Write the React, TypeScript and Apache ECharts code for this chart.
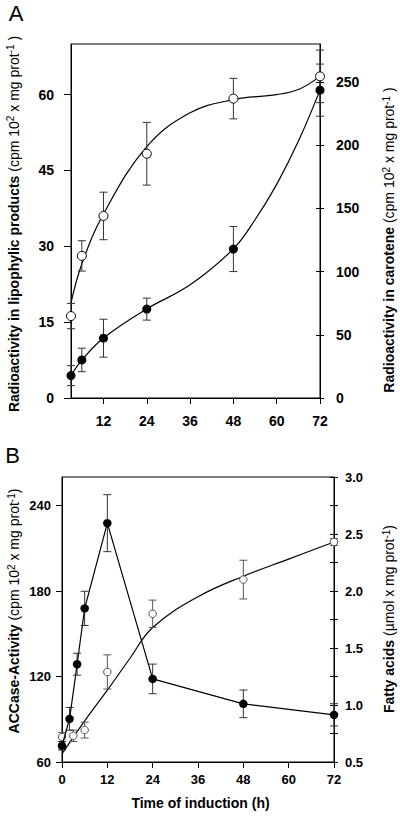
import React, { useEffect, useRef } from "react";
import * as echarts from "echarts";

// ---------- Panel A data ----------
const A_TIMES = [3, 6, 12, 24, 48, 72];
const A_LIPO = [16.2, 28.1, 36.0, 48.3, 59.2, 63.6];
const A_LIPO_ERR = [2.5, 3.0, 4.7, 6.2, 4.0, 5.2];
const A_CAROT = [17.7, 30.1, 47.3, 70.3, 117.8, 243.5];
const A_CAROT_ERR = [7.9, 9.3, 15.0, 8.7, 17.8, 20.6];
// fitted curves
const A_LIPO_FIT_T = [3, 6, 12, 24, 36, 48, 60, 66, 72];
const A_LIPO_FIT = [18.8, 26.5, 36.4, 49.7, 56.4, 59.0, 60.0, 61.0, 63.6];
const A_CAROT_FIT_T = [3, 6, 12, 24, 36, 48, 54, 60, 66, 72];
const A_CAROT_FIT = [17.7, 30, 47.5, 70.5, 89.5, 118, 141, 169, 203, 243.5];
const A_X_TICKS = [12, 24, 36, 48, 60, 72];
const A_LEFT_TICKS = [0, 15, 30, 45, 60];
const A_RIGHT_TICKS = [0, 50, 100, 150, 200, 250];

// ---------- Panel B data ----------
const B_ACC_T = [0, 2, 4, 6, 12, 24, 48, 72];
const B_ACC = [71.4, 90.3, 128.6, 167.8, 227.6, 118.3, 100.8, 93.1];
const B_ACC_ERR = [3, 8, 7.7, 12, 20, 10.4, 9.7, 7.8];
const B_FA_T = [0, 3, 6, 12, 24, 48, 72];
const B_FA = [0.72, 0.73, 0.78, 1.29, 1.8, 2.1, 2.43];
const B_FA_ERR = [0.04, 0.05, 0.07, 0.15, 0.12, 0.17, 0.03];
const B_FA_FIT_T = [0, 6, 12, 18, 24, 36, 48, 60, 72];
const B_FA_FIT = [0.57, 0.86, 1.13, 1.41, 1.68, 1.95, 2.13, 2.28, 2.43];
const B_LEFT_TICKS = [60, 120, 180, 240];
const B_RIGHT_LABELS = [0.5, 1.0, 1.5, 2.0, 2.5, 3.0];
const B_RIGHT_TICKS = [0.5, 0.75, 1.0, 1.25, 1.5, 1.75, 2.0, 2.25, 2.5, 2.75, 3.0];

const FONT = "'Liberation Sans', Arial, Helvetica, sans-serif";

const pairs = (xs: number[], ys: number[]) => xs.map((x, i) => [x, ys[i]]);
const errData = (xs: number[], ys: number[], es: number[]) =>
  xs.map((x, i) => [x, ys[i] - es[i], ys[i] + es[i]]);

const errorBarSeries = (
  data: number[][],
  xAxisIndex: number,
  yAxisIndex: number,
  color: string
) => ({
  type: "custom",
  xAxisIndex,
  yAxisIndex,
  z: 3,
  clip: false,
  encode: { x: 0, y: [1, 2] },
  data,
  renderItem: (params: any, api: any) => {
    const x = api.value(0);
    const p1 = api.coord([x, api.value(1)]);
    const p2 = api.coord([x, api.value(2)]);
    const w = 4;
    const style = { stroke: color, lineWidth: 1 };
    return {
      type: "group",
      children: [
        { type: "line", shape: { x1: p1[0], y1: p1[1], x2: p2[0], y2: p2[1] }, style },
        { type: "line", shape: { x1: p1[0] - w, y1: p1[1], x2: p1[0] + w, y2: p1[1] }, style },
        { type: "line", shape: { x1: p2[0] - w, y1: p2[1], x2: p2[0] + w, y2: p2[1] }, style },
      ],
    };
  },
});

const richTitle = {
  b: { fontSize: 14, fontWeight: "bold", fontFamily: FONT, color: "#000", lineHeight: 16, verticalAlign: "middle" },
  n: { fontSize: 14, fontWeight: "normal", fontFamily: FONT, color: "#000", lineHeight: 16, verticalAlign: "middle" },
  s: { fontSize: 10, fontWeight: "normal", fontFamily: FONT, color: "#000", lineHeight: 7, verticalAlign: "top" },
};

const vTitle = (x: number, y: number, text: string) => ({
  type: "text",
  x,
  y,
  rotation: Math.PI / 2,
  style: {
    text,
    rich: richTitle,
    align: "center",
    verticalAlign: "middle",
    fill: "#000",
  },
});

const axisLabelBase = (size: number, margin: number) => ({
  fontSize: size,
  fontWeight: "bold",
  fontFamily: FONT,
  color: "#000",
  margin,
});

export default function App() {
  const ref = useRef<HTMLDivElement>(null);

  useEffect(() => {
    if (!ref.current) return;
    const chart = echarts.init(ref.current, undefined, { renderer: "svg" });
    const black = { color: "#000", width: 1 };

    const option: any = {
      animation: false,
      backgroundColor: "#fff",
      textStyle: { fontFamily: FONT },
      grid: [
        { left: 71, top: 44, width: 249, height: 354, show: true, borderColor: "#000", borderWidth: 1 },
        { left: 62, top: 477, width: 272, height: 285, show: true, borderColor: "#000", borderWidth: 1 },
      ],
      xAxis: [
        {
          gridIndex: 0,
          type: "value",
          min: 3,
          max: 72,
          axisLine: { lineStyle: black },
          axisTick: { customValues: A_X_TICKS, length: 6, lineStyle: black },
          axisLabel: { ...axisLabelBase(14, 16), customValues: A_X_TICKS },
          splitLine: { show: false },
        },
        {
          gridIndex: 1,
          type: "value",
          min: 0,
          max: 72,
          interval: 12,
          axisLine: { lineStyle: black },
          axisTick: { length: 6, lineStyle: black },
          axisLabel: axisLabelBase(13, 11),
          splitLine: { show: false },
        },
      ],
      yAxis: [
        {
          gridIndex: 0,
          type: "value",
          position: "left",
          min: 0,
          max: 70,
          axisLine: { show: true, lineStyle: black },
          axisTick: { show: true, customValues: A_LEFT_TICKS, length: 7, lineStyle: black },
          axisLabel: { ...axisLabelBase(14, 17), customValues: A_LEFT_TICKS },
          splitLine: { show: false },
        },
        {
          gridIndex: 0,
          type: "value",
          position: "right",
          min: 0,
          max: 280,
          axisLine: { show: true, lineStyle: black },
          axisTick: { show: true, customValues: A_RIGHT_TICKS, length: 4, lineStyle: black },
          axisLabel: { ...axisLabelBase(14, 16), customValues: A_RIGHT_TICKS },
          splitLine: { show: false },
        },
        {
          gridIndex: 0,
          type: "value",
          position: "right",
          min: 0,
          max: 280,
          axisLine: { show: false },
          axisTick: { show: true, inside: true, customValues: A_RIGHT_TICKS, length: 4, lineStyle: black },
          axisLabel: { show: false },
          splitLine: { show: false },
        },
        {
          gridIndex: 1,
          type: "value",
          position: "left",
          min: 60,
          max: 260,
          axisLine: { show: true, lineStyle: black },
          axisTick: { show: true, customValues: B_LEFT_TICKS, length: 6, lineStyle: black },
          axisLabel: { ...axisLabelBase(13, 11), customValues: B_LEFT_TICKS },
          splitLine: { show: false },
        },
        {
          gridIndex: 1,
          type: "value",
          position: "right",
          min: 0.5,
          max: 3.0,
          axisLine: { show: true, lineStyle: black },
          axisTick: { show: true, customValues: B_RIGHT_TICKS, length: 4, lineStyle: black },
          axisLabel: {
            ...axisLabelBase(13, 11),
            customValues: B_RIGHT_LABELS,
            formatter: (v: number) => v.toFixed(1),
          },
          splitLine: { show: false },
        },
        {
          gridIndex: 1,
          type: "value",
          position: "right",
          min: 0.5,
          max: 3.0,
          axisLine: { show: false },
          axisTick: { show: true, inside: true, customValues: B_RIGHT_TICKS, length: 4, lineStyle: black },
          axisLabel: { show: false },
          splitLine: { show: false },
        },
      ],
      series: [
        // Panel A fitted curves
        {
          type: "line",
          xAxisIndex: 0,
          yAxisIndex: 0,
          data: pairs(A_LIPO_FIT_T, A_LIPO_FIT),
          smooth: 0.4,
          symbol: "none",
          lineStyle: { color: "#000", width: 1.2 },
          z: 2,
        },
        {
          type: "line",
          xAxisIndex: 0,
          yAxisIndex: 1,
          data: pairs(A_CAROT_FIT_T, A_CAROT_FIT),
          smooth: 0.4,
          symbol: "none",
          lineStyle: { color: "#000", width: 1.2 },
          z: 2,
        },
        errorBarSeries(errData(A_TIMES, A_LIPO, A_LIPO_ERR), 0, 0, "#333"),
        errorBarSeries(errData(A_TIMES, A_CAROT, A_CAROT_ERR), 0, 1, "#333"),
        {
          type: "scatter",
          xAxisIndex: 0,
          yAxisIndex: 0,
          data: pairs(A_TIMES, A_LIPO),
          symbol: "circle",
          symbolSize: 9,
          itemStyle: { color: "#fff", borderColor: "#000", borderWidth: 1, opacity: 1 },
          z: 5,
        },
        {
          type: "scatter",
          xAxisIndex: 0,
          yAxisIndex: 1,
          data: pairs(A_TIMES, A_CAROT),
          symbol: "circle",
          symbolSize: 9,
          itemStyle: { color: "#000", opacity: 1 },
          z: 6,
        },
        // Panel B
        {
          type: "line",
          xAxisIndex: 1,
          yAxisIndex: 4,
          data: pairs(B_FA_FIT_T, B_FA_FIT),
          smooth: 0.4,
          symbol: "none",
          lineStyle: { color: "#000", width: 1.2 },
          z: 2,
        },
        errorBarSeries(errData(B_FA_T, B_FA, B_FA_ERR), 1, 4, "#555"),
        errorBarSeries(errData(B_ACC_T, B_ACC, B_ACC_ERR), 1, 3, "#333"),
        {
          type: "line",
          xAxisIndex: 1,
          yAxisIndex: 3,
          data: pairs(B_ACC_T, B_ACC),
          symbol: "circle",
          symbolSize: 8.5,
          showSymbol: true,
          lineStyle: { color: "#000", width: 1.2 },
          itemStyle: { color: "#000", opacity: 1 },
          z: 6,
        },
        {
          type: "scatter",
          xAxisIndex: 1,
          yAxisIndex: 4,
          data: pairs(B_FA_T, B_FA),
          symbol: "circle",
          symbolSize: 7.5,
          itemStyle: { color: "#fff", borderColor: "#555", borderWidth: 1, opacity: 1 },
          z: 5,
        },
      ],
      graphic: [
        {
          type: "text",
          x: 16,
          y: 13,
          style: { text: "A", font: `22px ${FONT}`, fill: "#000", align: "center", verticalAlign: "middle" },
        },
        {
          type: "text",
          x: 12.5,
          y: 455.5,
          style: { text: "B", font: `22px ${FONT}`, fill: "#000", align: "center", verticalAlign: "middle" },
        },
        vTitle(13.5, 224, "{b|Radioactivity in lipophylic products }{n|(cpm 10}{s|2}{n| x mg prot}{s|-1}{n| )}"),
        vTitle(389, 240, "{b|Radioactivity in carotene }{n|(cpm 10}{s|2}{n| x mg prot}{s|-1}{n| )}"),
        vTitle(14, 611, "{b|ACCase-Activity }{n|(cpm 10}{s|2}{n| x mg prot}{s|-1}{n|)}"),
        vTitle(389, 619, "{b|Fatty acids }{n|(µmol x mg prot}{s|-1}{n|)}"),
        {
          type: "text",
          x: 200.5,
          y: 803,
          style: {
            text: "Time of induction (h)",
            font: `bold 14px ${FONT}`,
            fill: "#000",
            align: "center",
            verticalAlign: "middle",
          },
        },
      ],
    };

    chart.setOption(option);
    return () => chart.dispose();
  }, []);

  return (
    <div
      ref={ref}
      style={{ position: "fixed", left: 0, top: 0, width: 400, height: 818, background: "#fff" }}
    />
  );
}
